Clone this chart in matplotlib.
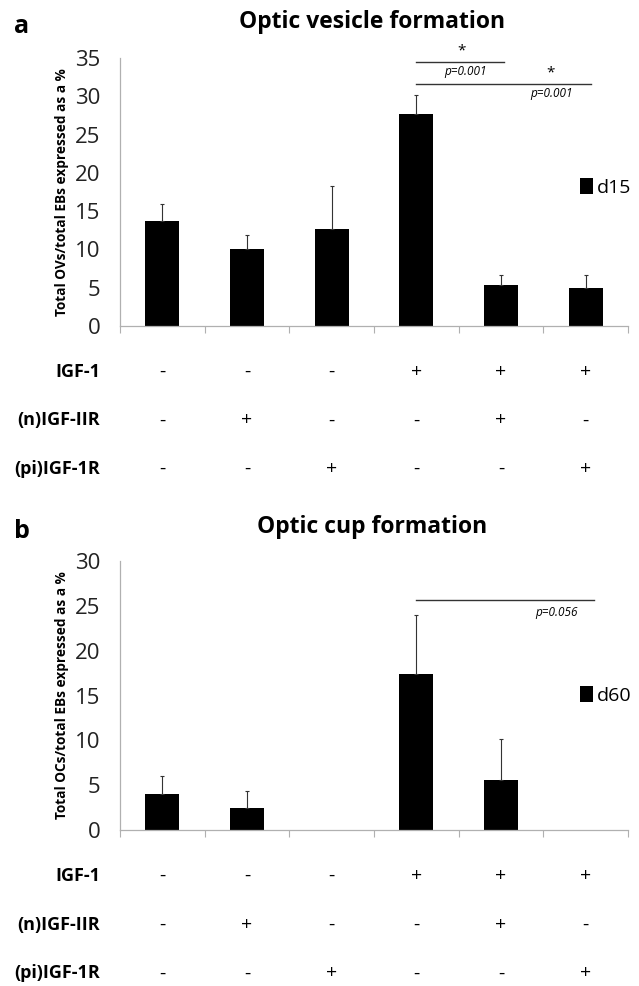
import matplotlib
matplotlib.use("Agg")
import matplotlib.pyplot as plt
import numpy as np

plt.rcParams['font.family'] = ['Open Sans', 'DejaVu Sans']

# data
groups = np.arange(6)
igf1 = ['-', '-', '-', '+', '+', '+']
n_igf2r = ['-', '+', '-', '-', '+', '-']
pi_igf1r = ['-', '-', '+', '-', '-', '+']
row_names = ['IGF-1', '(n)IGF-IIR', '(pi)IGF-1R']

ov_d15 = [13.7, 10.1, 12.7, 27.7, 5.4, 4.9]
ov_d15_err = [2.2, 1.8, 5.6, 2.5, 1.2, 1.8]
oc_d60 = [4.0, 2.4, 0.0, 17.4, 5.6, 0.0]
oc_d60_err = [2.0, 2.0, 0.0, 6.6, 4.5, 0.0]

axis_grey = '#b0b0b0'


def panel(ax, vals, errs, ymax, title, letter, title_y, ylabel, legend_label, leg_y):
    ax.bar(groups, vals, width=0.4, color='black', zorder=2)
    vals = np.array(vals)
    errs = np.array(errs)
    keep = errs > 0
    ax.errorbar(groups[keep], vals[keep], yerr=[np.zeros(keep.sum()), errs[keep]],
                fmt='none', ecolor='#333333', elinewidth=0.8, capsize=1.5,
                capthick=0.8, zorder=3)
    ax.set_xlim(-0.5, 5.5)
    ax.set_ylim(0, ymax)
    ax.set_yticks(np.arange(0, ymax + 1, 5))
    ax.tick_params(axis='y', length=0, labelsize=16, pad=14, labelcolor='#222222')
    ax.set_xticks(np.arange(-0.5, 6, 1))
    ax.set_xticklabels([])
    ax.tick_params(axis='x', length=5, color=axis_grey, direction='out')
    for s in ['top', 'right']:
        ax.spines[s].set_visible(False)
    for s in ['left', 'bottom']:
        ax.spines[s].set_color(axis_grey)
        ax.spines[s].set_linewidth(0.9)
    ax.set_ylabel(ylabel, fontsize=9.8, fontweight='bold')
    ax.yaxis.set_label_coords(-0.1, 0.5)
    fig.text(0.583, title_y, title, fontsize=16.5, fontweight='bold',
             ha='center', va='center')
    fig.text(0.022, title_y - 0.005, letter, fontsize=18, fontweight='bold',
             va='center', ha='left')
    # legend marker on the right
    ax.bar([np.nan], [np.nan], color='black', label=legend_label)
    ax.legend(loc='center left', bbox_to_anchor=(0.905, leg_y / ymax), frameon=False,
              fontsize=14, handlelength=0.7, handleheight=0.9, handletextpad=0.2,
              borderaxespad=0, borderpad=0)
    # treatment table under the axis
    tr = ax.get_xaxis_transform()
    rows = [igf1, n_igf2r, pi_igf1r]
    row_y = [-0.17, -0.352, -0.533]
    for name, signs, y in zip(row_names, rows, row_y):
        ax.text(-0.039, y, name, transform=ax.transAxes, ha='right', va='center',
                fontsize=13, fontweight='bold', clip_on=False)
        for g, s in zip(groups, signs):
            ax.text(g, y, s, transform=tr, ha='center', va='center',
                    fontsize=14, clip_on=False)


fig = plt.figure(figsize=(6.39, 9.86), dpi=100)
ax1 = fig.add_axes([0.1878, 0.6694, 0.795, 0.2718])
ax2 = fig.add_axes([0.1878, 0.1582, 0.795, 0.2728])

panel(ax1, ov_d15, ov_d15_err, 35, 'Optic vesicle formation', 'a', 1 - 22 / 986,
      'Total OVs/total EBs expressed as a %', 'd15', 18.1)
panel(ax2, oc_d60, oc_d60_err, 30, 'Optic cup formation', 'b', 1 - 527 / 986,
      'Total OCs/total EBs expressed as a %', 'd60', 15.0)

# significance bars
ax1.plot([3, 4.04], [34.5, 34.5], color='#333333', lw=1, clip_on=False)
ax1.text(3.53, 34.9, '*', ha='center', va='bottom', fontsize=11, clip_on=False)
ax1.text(3.58, 33.2, 'p=0.001', ha='center', va='center', fontsize=8.5,
         style='italic', clip_on=False)
ax1.plot([3, 5.06], [31.6, 31.6], color='#333333', lw=1, clip_on=False)
ax1.text(4.58, 32.0, '*', ha='center', va='bottom', fontsize=11, clip_on=False)
ax1.text(4.6, 30.3, 'p=0.001', ha='center', va='center', fontsize=8.5,
         style='italic', clip_on=False)

ax2.plot([3, 5.1], [25.6, 25.6], color='#333333', lw=1, clip_on=False)
ax2.text(4.65, 24.3, 'p=0.056', ha='center', va='center', fontsize=8.5,
         style='italic', clip_on=False)

fig.savefig('out.png', dpi=100)
